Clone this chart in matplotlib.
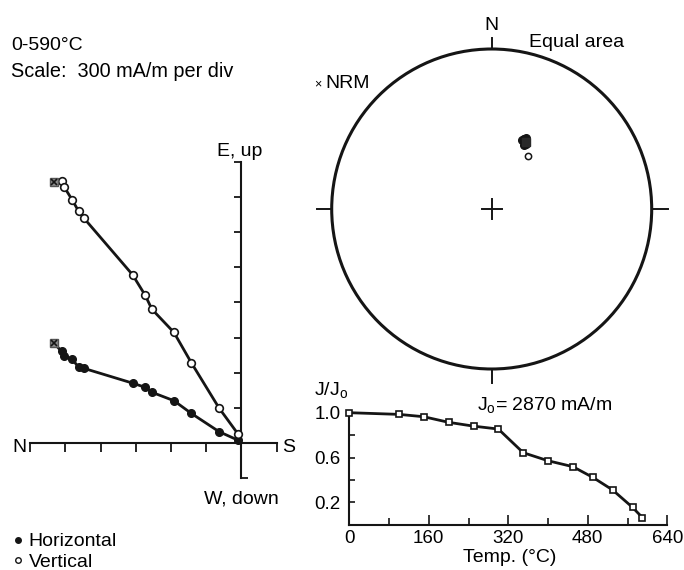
import matplotlib
matplotlib.use("Agg")
import matplotlib.pyplot as plt
from matplotlib.lines import Line2D
from matplotlib.patches import Circle
import numpy as np

plt.rcParams['font.family'] = ['Liberation Sans', 'DejaVu Sans']
plt.rcParams['mathtext.fontset'] = 'custom'
plt.rcParams['mathtext.rm'] = 'Liberation Sans'
plt.rcParams['mathtext.it'] = 'Liberation Sans:italic'

# -------------------------
#  DADOS (mA/m), NRM primeiro
# -------------------------
SCALE = 300  # mA/m por divisao
north = [1595, 1533, 1510, 1443, 1387, 1343, 928, 819, 763, 575, 427, 190, 30]
east = [852, 783, 744, 717, 648, 639, 513, 477, 435, 363, 255, 99, 27]
up = [2226, 2238, 2184, 2076, 1977, 1920, 1437, 1260, 1143, 945, 687, 300, 81]

# desmagnetizacao termica
temps = [0, 100, 150, 200, 250, 300, 350, 400, 450, 490, 530, 570, 590]
j_ratio = [1.0, 0.985, 0.964, 0.914, 0.880, 0.854, 0.643, 0.571, 0.518, 0.423, 0.310, 0.155, 0.063]

# estereograma (graus)
st_dec = [26, 27, 25, 28, 26, 24, 27, 25]
st_inc = [51, 52, 50, 52, 49, 51, 53, 50]
nrm_dec, nrm_inc = 27, 51
open_dec, open_inc = 34, 57

W, H = 684, 570
fig = plt.figure(figsize=(W / 100, H / 100), dpi=100)


def px_axes(left, top, width, height):
    return fig.add_axes([left / W, 1 - (top + height) / H, width / W, height / H])


def px_text(x, y, s, **kw):
    kw.setdefault('fontsize', 14)
    kw.setdefault('va', 'baseline')
    fig.text(x / W, 1 - y / H, s, **kw)


def eqarea(dec, inc):
    dec = np.radians(np.asarray(dec, dtype=float))
    inc = np.abs(np.asarray(inc, dtype=float))
    r = np.sqrt(2) * np.sin(np.radians(90 - inc) / 2)
    return r * np.sin(dec), r * np.cos(dec)


LINE = '#151515'
LW = 2.0      # linhas de dados
SW = 1.5      # eixos

# -------------------------
#  ZIJDERVELD
# -------------------------
ox, oy, ppd = 241.4, 443.3, 35.2   # origem em pixels, pixels por divisao
k = SCALE / ppd
left, top, wd, ht = 0, 120, 320, 380
ax = px_axes(left, top, wd, ht)
ax.set_xlim((left - ox) * k, (left + wd - ox) * k)
ax.set_ylim((oy - top - ht) * k, (oy - top) * k)
ax.patch.set_visible(False)
for s in ['top', 'right']:
    ax.spines[s].set_visible(False)
ax.spines['left'].set_position(('data', 0))
ax.spines['bottom'].set_position(('data', 0))
ax.spines['left'].set_bounds(-SCALE, 8 * SCALE)
ax.spines['bottom'].set_bounds(-6 * SCALE, SCALE)
for s in ['left', 'bottom']:
    ax.spines[s].set_linewidth(SW)
    ax.spines[s].set_color(LINE)
ax.set_xticks(np.arange(-6, 2) * SCALE)
ax.set_yticks(np.arange(1, 9) * SCALE)
ax.tick_params(axis='x', direction='out', length=6.5, width=1.3, color=LINE, labelbottom=False)
ax.tick_params(axis='y', direction='out', length=5, width=1.3, color=LINE, labelleft=False)
ax.plot([0, 0.2 * SCALE], [-SCALE, -SCALE], color=LINE, lw=1.3, solid_capstyle='butt')

xs = -np.array(north)
ax.plot(xs, east, '-', color=LINE, lw=LW, zorder=3)
ax.plot(xs[1:], east[1:], 'o', color=LINE, ms=5.5, zorder=4)
ax.plot(xs, up, '-', color=LINE, lw=LW, zorder=3)
ax.plot(xs[1:], up[1:], 'o', mfc='white', mec=LINE, mew=1.2, ms=5.5, zorder=4)
for yv in (east[0], up[0]):
    ax.plot(xs[0], yv, 's', mfc='#8a8a8a', mec='#555555', ms=5.5, zorder=5)
    ax.plot(xs[0], yv, 'x', color=LINE, ms=4, mew=1.2, zorder=6)

px_text(11, 50, "0-590°C")
px_text(11, 77, "Scale:  300 mA/m per div", fontsize=14.3)
px_text(239.5, 156, "E, up", ha='center')
px_text(241.5, 503, "W, down", ha='center')
px_text(26, 452, "N", ha='right')
px_text(282, 452, "S", ha='left')

fig.legend(handles=[
    Line2D([], [], ls='none', marker='o', color=LINE, ms=4, label='Horizontal'),
    Line2D([], [], ls='none', marker='o', mfc='white', mec=LINE, ms=4, label='Vertical')],
    loc='lower left', bbox_to_anchor=(12 / W, -1 / H), frameon=False, fontsize=14,
    handlelength=0.6, handletextpad=0.26, labelspacing=0.15, borderpad=0, borderaxespad=0)

# -------------------------
#  ESTEREOGRAMA (area igual)
# -------------------------
cx, cy, rad = 491.7, 209, 160
ext = 1.2
ax_s = px_axes(cx - ext * rad, cy - ext * rad, 2 * ext * rad, 2 * ext * rad)
ax_s.set_xlim(-ext, ext)
ax_s.set_ylim(-ext, ext)
ax_s.axis('off')
ax_s.add_patch(Circle((0, 0), 1, fill=False, lw=2.2, color=LINE))
ax_s.plot([0, 0], [1, 1.07], color=LINE, lw=1.4)
ax_s.plot([0, 0], [-1, -1.09], color=LINE, lw=1.4)
ax_s.plot([-1, -1.095], [0, 0], color=LINE, lw=1.4)
ax_s.plot([1, 1.1], [0, 0], color=LINE, lw=1.4)
ax_s.plot([-0.063, 0.063], [0, 0], color=LINE, lw=1.4)
ax_s.plot([0, 0], [-0.063, 0.063], color=LINE, lw=1.4)

sx, sy = eqarea(st_dec, st_inc)
ax_s.plot(sx, sy, 'o', color=LINE, ms=5.5)
nx, ny = eqarea(nrm_dec, nrm_inc)
ax_s.plot(nx, ny, 's', color='#2a2a2a', ms=5.5)
qx, qy = eqarea(open_dec, open_inc)
ax_s.plot(qx, qy, 'o', mfc='white', mec=LINE, ms=4.5, mew=1.1)

px_text(cx, 30, "N", ha='center')
px_text(529, 47, "Equal area")
px_text(314, 87, "×", fontsize=9)
px_text(325, 88, "NRM")

# -------------------------
#  CURVA J/Jo
# -------------------------
ax_d = px_axes(349.3, 412.7, 318, 112)
ax_d.set_xlim(0, 640)
ax_d.set_ylim(0, 1.0)
ax_d.patch.set_visible(False)
for s in ['top', 'right']:
    ax_d.spines[s].set_visible(False)
for s in ['left', 'bottom']:
    ax_d.spines[s].set_linewidth(SW)
    ax_d.spines[s].set_color(LINE)
ax_d.set_xticks([0, 160, 320, 480, 640])
ax_d.set_xticks([80, 240, 400, 560], minor=True)
ax_d.set_yticks([0.2, 0.6, 1.0])
ax_d.set_yticklabels(['0.2', '0.6', '1.0'])
ax_d.set_yticks([0.4, 0.8], minor=True)
ax_d.tick_params(axis='x', which='major', direction='in', length=7, width=1.2,
                 color=LINE, labelsize=13.5, pad=4)
ax_d.tick_params(axis='x', which='minor', direction='in', length=5, width=1.2, color=LINE)
ax_d.tick_params(axis='y', which='both', direction='in', length=4, width=1.2,
                 color=LINE, labelsize=13.5, pad=6)
ax_d.plot(temps, j_ratio, '-s', color=LINE, lw=LW, mfc='white', mec=LINE,
          mew=1.2, ms=5, clip_on=False, zorder=4)

px_text(314, 395, "J/J$_\\mathrm{o}$")
px_text(477, 410, "J$_\\mathrm{o}$= 2870 mA/m")
px_text(509.5, 562, "Temp. (°C)", ha='center')

fig.savefig("out.png", dpi=100)
